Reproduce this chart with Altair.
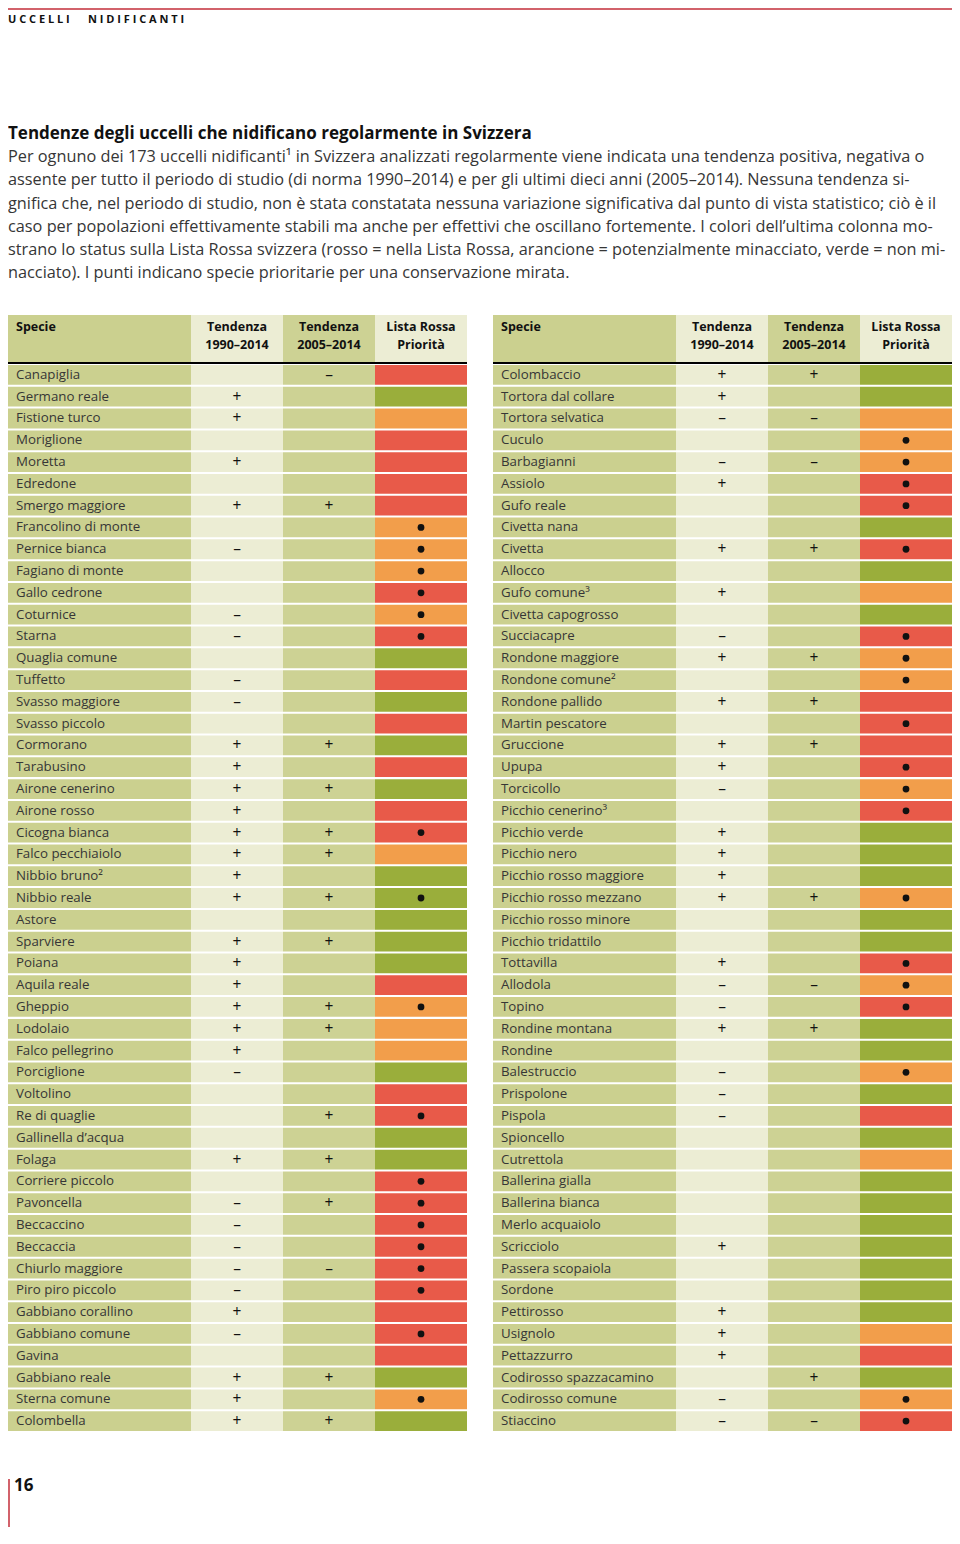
import altair as alt
import pandas as pd

# ---------------- data ----------------
LEFT_SPECIES = [
    "Canapiglia", "Germano reale", "Fistione turco", "Moriglione", "Moretta", "Edredone",
    "Smergo maggiore", "Francolino di monte", "Pernice bianca", "Fagiano di monte",
    "Gallo cedrone", "Coturnice", "Starna", "Quaglia comune", "Tuffetto", "Svasso maggiore",
    "Svasso piccolo", "Cormorano", "Tarabusino", "Airone cenerino", "Airone rosso",
    "Cicogna bianca", "Falco pecchiaiolo", "Nibbio bruno²", "Nibbio reale", "Astore",
    "Sparviere", "Poiana", "Aquila reale", "Gheppio", "Lodolaio", "Falco pellegrino",
    "Porciglione", "Voltolino", "Re di quaglie", "Gallinella d’acqua", "Folaga",
    "Corriere piccolo", "Pavoncella", "Beccaccino", "Beccaccia", "Chiurlo maggiore",
    "Piro piro piccolo", "Gabbiano corallino", "Gabbiano comune", "Gavina",
    "Gabbiano reale", "Sterna comune", "Colombella",
]
LEFT_T1 = ["", "+", "+", "", "+", "", "+", "", "–", "", "", "–", "–", "", "–", "–", "",
           "+", "+", "+", "+", "+", "+", "+", "+", "", "+", "+", "+", "+", "+", "+",
           "–", "", "", "", "+", "", "–", "–", "–", "–", "–", "+", "–", "", "+", "+", "+"]
LEFT_T2 = ["–", "", "", "", "", "", "+", "", "", "", "", "", "", "", "", "", "",
           "+", "", "+", "", "+", "+", "", "+", "", "+", "", "", "+", "+", "",
           "", "", "+", "", "+", "", "+", "", "", "–", "", "", "", "", "+", "", "+"]
LEFT_STATUS = ["R", "G", "O", "R", "R", "R", "R", "O", "O", "O", "R", "O", "R", "G", "R", "G", "R",
               "G", "R", "G", "R", "R", "O", "G", "G", "G", "G", "G", "R", "O", "O", "O",
               "G", "R", "R", "G", "G", "R", "R", "R", "R", "R", "R", "R", "R", "R", "G", "O", "G"]
LEFT_PRIO = [0, 0, 0, 0, 0, 0, 0, 1, 1, 1, 1, 1, 1, 0, 0, 0, 0,
             0, 0, 0, 0, 1, 0, 0, 1, 0, 0, 0, 0, 1, 0, 0,
             0, 0, 1, 0, 0, 1, 1, 1, 1, 1, 1, 0, 1, 0, 0, 1, 0]

RIGHT_SPECIES = [
    "Colombaccio", "Tortora dal collare", "Tortora selvatica", "Cuculo", "Barbagianni",
    "Assiolo", "Gufo reale", "Civetta nana", "Civetta", "Allocco", "Gufo comune³",
    "Civetta capogrosso", "Succiacapre", "Rondone maggiore", "Rondone comune²",
    "Rondone pallido", "Martin pescatore", "Gruccione", "Upupa", "Torcicollo",
    "Picchio cenerino³", "Picchio verde", "Picchio nero", "Picchio rosso maggiore",
    "Picchio rosso mezzano", "Picchio rosso minore", "Picchio tridattilo", "Tottavilla",
    "Allodola", "Topino", "Rondine montana", "Rondine", "Balestruccio", "Prispolone",
    "Pispola", "Spioncello", "Cutrettola", "Ballerina gialla", "Ballerina bianca",
    "Merlo acquaiolo", "Scricciolo", "Passera scopaiola", "Sordone", "Pettirosso",
    "Usignolo", "Pettazzurro", "Codirosso spazzacamino", "Codirosso comune", "Stiaccino",
]
RIGHT_T1 = ["+", "+", "–", "", "–", "+", "", "", "+", "", "+", "", "–", "+", "", "+", "",
            "+", "+", "–", "", "+", "+", "+", "+", "", "", "+", "–", "–", "+", "", "–",
            "–", "–", "", "", "", "", "", "+", "", "", "+", "+", "+", "", "–", "–"]
RIGHT_T2 = ["+", "", "–", "", "–", "", "", "", "+", "", "", "", "", "+", "", "+", "",
            "+", "", "", "", "", "", "", "+", "", "", "", "–", "", "+", "", "",
            "", "", "", "", "", "", "", "", "", "", "", "", "", "+", "", "–"]
RIGHT_STATUS = ["G", "G", "O", "O", "O", "R", "R", "G", "R", "G", "O", "G", "R", "O", "O", "R", "R",
                "R", "R", "O", "R", "G", "G", "G", "O", "G", "G", "R", "O", "R", "G", "G", "O",
                "G", "R", "G", "O", "G", "G", "G", "G", "G", "G", "G", "O", "R", "G", "O", "R"]
RIGHT_PRIO = [0, 0, 0, 1, 1, 1, 1, 0, 1, 0, 0, 0, 1, 1, 1, 0, 1,
              0, 1, 1, 1, 0, 0, 0, 1, 0, 0, 1, 1, 1, 0, 0, 1,
              0, 0, 0, 0, 0, 0, 0, 0, 0, 0, 0, 0, 0, 0, 1, 1]

HEAD_LINE1 = ["Specie", "Tendenza", "Tendenza", "Lista Rossa"]
HEAD_LINE2 = ["", "1990–2014", "2005–2014", "Priorità"]

SECTION_LABEL = "U C C E L L I\u2003\u2002\u2009N I D I F I C A N T I"
TITLE = "Tendenze degli uccelli che nidificano regolarmente in Svizzera"
PARAGRAPH = [
    "Per ognuno dei 173 uccelli nidificanti¹ in Svizzera analizzati regolarmente viene indicata una tendenza positiva, negativa o",
    "assente per tutto il periodo di studio (di norma 1990–2014) e per gli ultimi dieci anni (2005–2014). Nessuna tendenza si-",
    "gnifica che, nel periodo di studio, non è stata constatata nessuna variazione significativa dal punto di vista statistico; ciò è il",
    "caso per popolazioni effettivamente stabili ma anche per effettivi che oscillano fortemente. I colori dell’ultima colonna mo-",
    "strano lo status sulla Lista Rossa svizzera (rosso = nella Lista Rossa, arancione = potenzialmente minacciato, verde = non mi-",
    "nacciato). I punti indicano specie prioritarie per una conservazione mirata.",
]
PAGE_NUMBER = "16"

# ---------------- style ----------------
FONT = "Open Sans"
TEXT = "#363636"
INK = "#111111"
PAGE_RED = "#d2626b"
SPECIES_BG = "#cbd08f"
COL1_BG = "#ecedd4"
COL2_BG = "#cdd294"
HEAD_BG = [SPECIES_BG, COL1_BG, COL2_BG, COL1_BG]
STATUS_DOMAIN = ["R", "O", "G"]
STATUS_RANGE = ["#e85a49", "#f29e4b", "#9aae3b"]

W = [183, 92, 92, 92]
PANEL_W = sum(W)
GAP = 26
TOTAL_W = 2 * PANEL_W + GAP
INTRO_H = 307
HEADER_H = 49
BODY_H = 1068
FOOTER_H = 95


def y_enc(order):
    return alt.Y("species:N", sort=order, axis=None,
                 scale=alt.Scale(paddingInner=0.092, paddingOuter=0.046))


def header_cell(i):
    w = W[i]
    df = pd.DataFrame({"l1": [HEAD_LINE1[i]], "l2": [HEAD_LINE2[i]]})
    base = alt.Chart(df)
    bg = base.mark_rect(color=HEAD_BG[i]).encode(
        x=alt.value(0), x2=alt.value(w), y=alt.value(0), y2=alt.value(47))
    line = base.mark_rect(color="#000000").encode(
        x=alt.value(0), x2=alt.value(w), y=alt.value(47), y2=alt.value(49))
    if i == 0:
        tx, align = 8, "left"
    else:
        tx, align = w / 2, "center"
    t1 = base.mark_text(font=FONT, fontSize=12.5, fontWeight="bold", color=INK,
                        align=align, baseline="middle").encode(
        x=alt.value(tx), y=alt.value(12), text="l1:N")
    t2 = base.mark_text(font=FONT, fontSize=12.5, fontWeight="bold", color=INK,
                        align=align, baseline="middle").encode(
        x=alt.value(tx), y=alt.value(30), text="l2:N")
    return alt.layer(bg, line, t1, t2).properties(width=w, height=HEADER_H)


def body_columns(df, order):
    base = alt.Chart(df)
    y = y_enc(order)
    sp = alt.layer(
        base.mark_rect(color=SPECIES_BG).encode(y=y, x=alt.value(0), x2=alt.value(W[0])),
        base.mark_text(font=FONT, fontSize=13.3, color=TEXT, align="left",
                       baseline="middle").encode(y=y, x=alt.value(8), text="species:N"),
    ).properties(width=W[0], height=BODY_H)

    c1 = alt.layer(
        base.mark_rect(color=COL1_BG).encode(y=y, x=alt.value(0), x2=alt.value(W[1])),
        base.mark_text(font=FONT, fontSize=15.5, color=INK, align="center",
                       baseline="middle").encode(y=y, x=alt.value(W[1] / 2), text="t1:N"),
    ).properties(width=W[1], height=BODY_H)

    c2 = alt.layer(
        base.mark_rect(color=COL2_BG).encode(y=y, x=alt.value(0), x2=alt.value(W[2])),
        base.mark_text(font=FONT, fontSize=15.5, color=INK, align="center",
                       baseline="middle").encode(y=y, x=alt.value(W[2] / 2), text="t2:N"),
    ).properties(width=W[2], height=BODY_H)

    c3 = alt.layer(
        base.mark_rect().encode(
            y=y, x=alt.value(0), x2=alt.value(W[3]),
            color=alt.Color("status:N", legend=None,
                            scale=alt.Scale(domain=STATUS_DOMAIN, range=STATUS_RANGE))),
        base.transform_filter("datum.prio == 1").mark_circle(
            size=46, color=INK, opacity=1).encode(y=y, x=alt.value(W[3] / 2)),
    ).properties(width=W[3], height=BODY_H)

    return alt.hconcat(sp, c1, c2, c3, spacing=0, bounds="flush")


def panel(species, t1, t2, status, prio):
    df = pd.DataFrame({"species": species, "t1": t1, "t2": t2,
                       "status": status, "prio": prio})
    head = alt.hconcat(*[header_cell(i) for i in range(4)], spacing=0, bounds="flush")
    body = body_columns(df, species)
    return alt.vconcat(head, body, spacing=0)


# ---------------- intro ----------------
label_df = pd.DataFrame({"label": [SECTION_LABEL]})
label_base = alt.Chart(label_df)
top_rule = label_base.mark_rect(color=PAGE_RED).encode(
    x=alt.value(0), x2=alt.value(TOTAL_W), y=alt.value(0), y2=alt.value(2))
top_label = label_base.mark_text(font=FONT, fontSize=11, fontWeight="bold", color=INK,
                                 align="left", baseline="middle").encode(
    x=alt.value(0), y=alt.value(12), text="label:N")

y_lines = alt.Y("line:Q", axis=None, scale=alt.Scale(domain=[0, 6], range=[126, 265]))
title_layer = alt.Chart(pd.DataFrame({"line": [0], "text": [TITLE]})).mark_text(
    font=FONT, fontSize=17, fontWeight="bold", color=INK, align="left",
    baseline="middle").encode(x=alt.value(0), y=y_lines, text="text:N")
para_layer = alt.Chart(pd.DataFrame({"line": list(range(1, 7)), "text": PARAGRAPH})).mark_text(
    font=FONT, fontSize=16.3, color=TEXT, align="left", baseline="middle").encode(
    x=alt.value(0), y=y_lines, text="text:N")

intro = alt.layer(top_rule, top_label, title_layer, para_layer).properties(
    width=TOTAL_W, height=INTRO_H)

# ---------------- table ----------------
table = alt.hconcat(
    panel(LEFT_SPECIES, LEFT_T1, LEFT_T2, LEFT_STATUS, LEFT_PRIO),
    panel(RIGHT_SPECIES, RIGHT_T1, RIGHT_T2, RIGHT_STATUS, RIGHT_PRIO),
    spacing=GAP)

# ---------------- footer ----------------
foot_base = alt.Chart(pd.DataFrame({"page": [PAGE_NUMBER]}))
foot_rule = foot_base.mark_rect(color=PAGE_RED).encode(
    x=alt.value(0), x2=alt.value(2), y=alt.value(47), y2=alt.value(FOOTER_H))
foot_text = foot_base.mark_text(font=FONT, fontSize=17, fontWeight="bold", color=INK,
                                align="left", baseline="middle").encode(
    x=alt.value(6), y=alt.value(54), text="page:N")
footer = alt.layer(foot_rule, foot_text).properties(width=TOTAL_W, height=FOOTER_H)

chart = alt.vconcat(intro, table, footer, spacing=0, padding=0,
                    background="#ffffff").configure_view(stroke=None)

chart.save("out.html", embed_options={"renderer": "svg", "actions": False})
